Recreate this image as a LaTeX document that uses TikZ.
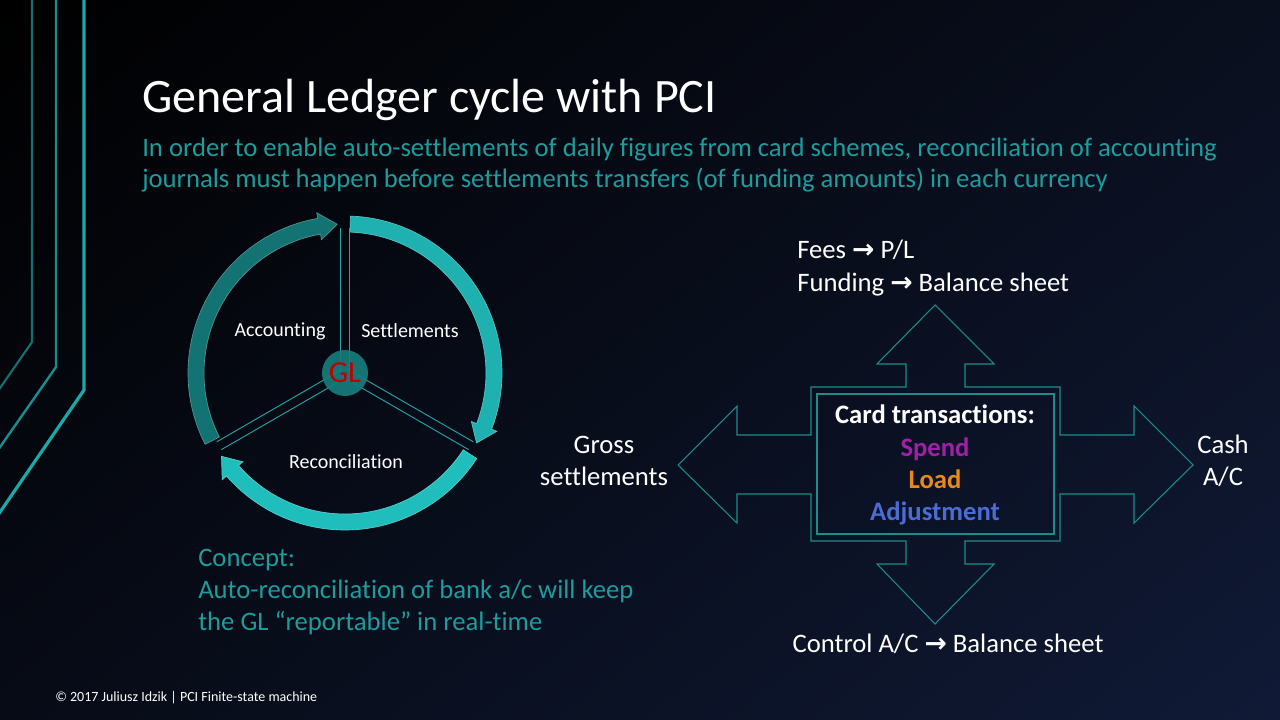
\documentclass[tikz,border=0pt]{standalone}
\usepackage{fontspec}
\usetikzlibrary{shadings}
\setmainfont{Carlito}[Ligatures=CommonOff]
\newfontfamily\symfont{DejaVu Sans}
\definecolor{bgTL}{HTML}{000000}
\definecolor{bgTR}{HTML}{0A0F1E}
\definecolor{bgBL}{HTML}{070B16}
\definecolor{bgBR}{HTML}{101A36}
\definecolor{tealtxt}{HTML}{1C9C9C}
\definecolor{tealline}{HTML}{1A8C8C}
\definecolor{lineA}{HTML}{137070}
\definecolor{lineB}{HTML}{178E8E}
\definecolor{lineC}{HTML}{1AA8A8}
\definecolor{arcSet}{HTML}{1FB0B0}
\definecolor{arcRec}{HTML}{20BDBD}
\definecolor{arcAcc}{HTML}{137272}
\definecolor{radline}{HTML}{1FA5A5}
\definecolor{glfill}{HTML}{177C7C}
\definecolor{glred}{HTML}{C00000}
\definecolor{spendc}{HTML}{A020A8}
\definecolor{loadc}{HTML}{E88A1A}
\definecolor{adjc}{HTML}{4A6CD4}
\newcommand\ringarrow[3]{%
  \pgfmathsetmacro\hbang{#2+7}%
  \filldraw[fill=#3, draw=#3!75!white, line width=0.5pt]
    (#1:117.75pt) arc[start angle=#1, end angle=\hbang, radius=117.75pt]
    -- (\hbang:122pt) -- (#2:111.75pt) -- (\hbang:101.5pt) -- (\hbang:105.75pt)
    arc[start angle=\hbang, end angle=#1, radius=105.75pt] -- cycle;}
\newcommand\rarr{{\symfont\bfseries\fontsize{20}{20}\selectfont →}}
\tikzset{
  wtxt/.style={text=white, inner sep=0pt},
  ttxt/.style={text=tealtxt, inner sep=0pt},
  crossline/.style={draw=tealline, line width=0.8pt, line join=miter},
  cyclbl/.style={text=white, inner sep=0pt, font=\fontsize{15}{18}\selectfont}
}
\begin{document}
\begin{tikzpicture}[x=0.75pt,y=-0.75pt]
\useasboundingbox (0,0) rectangle (1280,720);
\shade[upper left=bgTL, upper right=bgTR, lower left=bgBL, lower right=bgBR] (0,0) rectangle (1280,720);

% decorative lines
\draw[lineA, line width=1.6pt] (32,-2) -- (32,342) -- (-2,391);
\draw[lineB, line width=1.8pt] (56,-2) -- (56,367) -- (-2,450);
\draw[lineC, line width=2.4pt] (84,-2) -- (84,390) -- (-2,515);

% title and subtitle
\node[wtxt, anchor=base west, font=\fontsize{36}{43}\selectfont] (title) at (142,113) {General Ledger cycle with PCI};
\node[ttxt, anchor=base west, font=\fontsize{20}{24}\selectfont] (sub1) at (142,157) {In order to enable auto-settlements of daily figures from card schemes, reconciliation of accounting};
\node[ttxt, anchor=base west, font=\fontsize{20}{24}\selectfont] (sub2) at (142,188) {journals must happen before settlements transfers (of funding amounts) in each currency};

% cycle
\begin{scope}[shift={(258.75pt,-279.75pt)}]
  \ringarrow{88}{-28}{arcSet}
  \ringarrow{-33}{-146}{arcRec}
  \ringarrow{207}{93}{arcAcc}
  \foreach \a in {90,-30,210}{
    \draw[radline, line width=0.7pt, rotate=\a] (0pt,3.4pt) -- (109pt,3.4pt) (0pt,-3.4pt) -- (109pt,-3.4pt);
  }
  \node[circle, fill=glfill, fill opacity=0.92, text opacity=1, minimum size=34.5pt, inner sep=0pt,
        text=glred, font=\fontsize{23}{23}\selectfont] (gl) at (0pt,0pt) {GL};
\end{scope}
\node[cyclbl] (acc) at (280,331) {Accounting};
\node[cyclbl] (set) at (410,331) {Settlements};
\node[cyclbl] (rec) at (346,462) {Reconciliation};

% concept
\node[ttxt, anchor=base west, font=\fontsize{20}{24}\selectfont] (c1) at (198,566) {Concept:};
\node[ttxt, anchor=base west, font=\fontsize{20}{24}\selectfont] (c2) at (198,598) {Auto-reconciliation of bank a/c will keep};
\node[ttxt, anchor=base west, font=\fontsize{20}{24}\selectfont] (c3) at (198,630) {the GL “reportable” in real-time};

% cross arrow
\draw[crossline] (935,305) -- (994,364) -- (965,364) -- (965,387) -- (1060,387) -- (1060,435)
  -- (1134,435) -- (1134,406) -- (1193,465) -- (1134,523) -- (1134,494) -- (1060,494)
  -- (1060,541) -- (965,541) -- (965,564) -- (994,564) -- (935,624) -- (877,564)
  -- (906,564) -- (906,541) -- (811,541) -- (811,494) -- (737,494) -- (737,523)
  -- (678,465) -- (737,406) -- (737,435) -- (811,435) -- (811,387) -- (906,387)
  -- (906,364) -- (877,364) -- cycle;
\draw[crossline] (817,394) rectangle (1054,534);

\node[wtxt, anchor=base, font=\bfseries\fontsize{20}{24}\selectfont] (ct) at (935,423) {Card transactions:};
\node[anchor=base, inner sep=0pt, text=spendc, font=\bfseries\fontsize{20}{24}\selectfont] (sp) at (935,456) {Spend};
\node[anchor=base, inner sep=0pt, text=loadc, font=\bfseries\fontsize{20}{24}\selectfont] (ld) at (935,488) {Load};
\node[anchor=base, inner sep=0pt, text=adjc, font=\bfseries\fontsize{20}{24}\selectfont] (adj) at (935,520) {Adjustment};

% outer labels
\node[wtxt, anchor=base west, font=\fontsize{20}{24}\selectfont] (fees) at (797,258) {Fees \rarr{} P/L};
\node[wtxt, anchor=base west, font=\fontsize{20}{24}\selectfont] (fund) at (797,291) {Funding \rarr{} Balance sheet};
\node[wtxt, anchor=base, font=\fontsize{20}{24}\selectfont] (gross1) at (604,453) {Gross};
\node[wtxt, anchor=base, font=\fontsize{20}{24}\selectfont] (gross2) at (604,485) {settlements};
\node[wtxt, anchor=base, font=\fontsize{20}{24}\selectfont] (cash1) at (1223,453) {Cash};
\node[wtxt, anchor=base, font=\fontsize{20}{24}\selectfont] (cash2) at (1223,485) {A/C};
\node[wtxt, anchor=base, font=\fontsize{20}{24}\selectfont] (ctrl) at (948,652) {Control A/C \rarr{} Balance sheet};

% footer
\node[wtxt, anchor=base west, font=\fontsize{10.5}{12}\selectfont] (foot) at (55,701) {© 2017 Juliusz Idzik | PCI Finite-state machine};
\end{tikzpicture}
\end{document}
